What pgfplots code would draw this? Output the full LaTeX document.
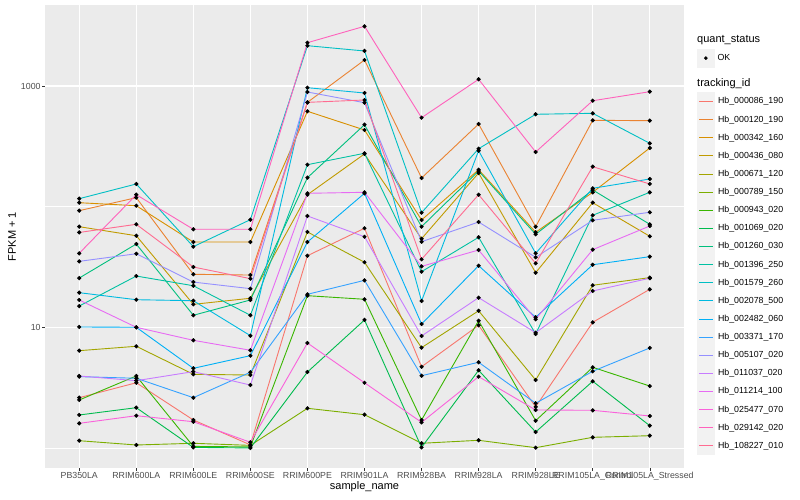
\documentclass[border=0pt]{standalone}
\usepackage{fontspec}
\setmainfont{Liberation Sans}
\usepackage{pgfplots}
\usepackage{pgfplotstable}
\pgfplotsset{compat=1.18}

\definecolor{c1}{HTML}{F8766D}
\definecolor{c2}{HTML}{EA8331}
\definecolor{c3}{HTML}{D89000}
\definecolor{c4}{HTML}{C09B00}
\definecolor{c5}{HTML}{A3A500}
\definecolor{c6}{HTML}{7CAE00}
\definecolor{c7}{HTML}{39B600}
\definecolor{c8}{HTML}{00BB4E}
\definecolor{c9}{HTML}{00BF7D}
\definecolor{c10}{HTML}{00C1A3}
\definecolor{c11}{HTML}{00BFC4}
\definecolor{c12}{HTML}{00BAE0}
\definecolor{c13}{HTML}{00B0F6}
\definecolor{c14}{HTML}{35A2FF}
\definecolor{c15}{HTML}{9590FF}
\definecolor{c16}{HTML}{C77CFF}
\definecolor{c17}{HTML}{E76BF3}
\definecolor{c18}{HTML}{FA62DB}
\definecolor{c19}{HTML}{FF62BC}
\definecolor{c20}{HTML}{FF6C91}
\definecolor{panelbg}{HTML}{EBEBEB}
\definecolor{keybg}{HTML}{F2F2F2}
\definecolor{tickgray}{HTML}{333333}
\definecolor{labgray}{HTML}{4D4D4D}

\pgfplotstableread{
x s1 s2 s3 s4 s5 s6 s7 s8 s9 s10 s11 s12 s13 s14 s15 s16 s17 s18 s19 s20
0 2.61 92.6 107.8 68.2 6.40 1.148 2.497 1.876 25.6 15.0 116.4 19.36 10.06 3.90 35.2 3.95 16.84 1.60 41.05 61.1
1 3.47 118.7 101.8 57.4 6.96 1.058 3.95 2.156 49.0 26.6 154.1 16.93 10.0 3.78 40.7 3.61 10.0 1.85 125.6 71.4
2 1.705 27.5 50.9 15.5 4.08 1.093 1.03 1.01 12.58 22.1 46.6 16.61 4.57 2.61 23.7 4.29 7.80 1.65 64.9 31.6
3 1.06 27.1 50.9 17.4 4.02 1.05 1.02 1.0 16.84 12.58 78.0 8.52 5.82 4.24 20.9 3.32 6.45 1.114 64.9 25.3
4 39.2 732 617 125.6 61.7 2.131 18.28 4.26 173.8 222.7 2158 968 50.9 18.77 891.6 83.7 129.0 7.41 2285 732
5 66.2 1642 431.8 273.2 34.6 1.886 17.07 11.5 477.9 276.9 1951 875 129.0 24.5 727 56.3 131.5 3.47 3125 765.6
6 4.71 172.8 77.5 54.2 6.78 1.093 1.705 1.01 68.2 28.9 89.1 16.52 10.65 3.97 51.2 8.47 32.0 1.63 546 36.6
7 10.39 484 202.4 190.0 13.7 1.157 11.34 4.40 197.5 55.7 302.2 290.9 32.4 5.13 74.6 17.6 43.7 3.90 1136 125.6
8 2.19 68.2 61.3 28.35 3.66 1.005 1.682 1.356 59.0 8.80 582.9 41.05 12.1 2.345 38.0 9.02 11.65 2.063 283.8 33.9
9 11.0 519.6 131.5 107.8 22.3 1.225 4.66 3.57 137.4 84.8 593.8 141.9 33.0 4.32 77.1 20.0 44.0 2.051 755 214.3
10 20.65 515.7 306.3 56.8 25.8 1.263 3.26 1.529 71.4 131.5 335.0 169.5 38.5 6.74 89.8 25.5 69.1 1.84 897 154.1
}\data

\pgfplotsset{
  keylegend/.style={
    legend cell align=left,
    legend style={
      draw=none, fill=none, inner sep=0pt, outer sep=0pt,
      row sep=0pt,
      nodes={inner sep=0pt, minimum height=17.23pt, anchor=west,
             font=\fontsize{8.8}{10}\selectfont},
      /tikz/every odd column/.append style={column sep=3pt},
    },
  },
}

\begin{document}
\begin{tikzpicture}
\useasboundingbox (0,0) rectangle (800pt,500pt);
\begin{axis}[
  at={(45pt,32pt)}, anchor=south west,
  scale only axis, width=639pt, height=463pt,
  ymode=log, ymin=0.682, ymax=4692,
  xmin=-0.6, xmax=10.6,
  enlargelimits=false,
  axis background/.style={fill=panelbg},
  axis line style={draw=none},
  xtick={0,1,2,3,4,5,6,7,8,9,10},
  xticklabels={PB350LA,RRIM600LA,RRIM600LE,RRIM600SE,RRIM600PE,RRIM901LA,RRIM928BA,RRIM928LA,RRIM928LE,RRIM105LA\_Control,RRIM105LA\_Stressed},
  ytick={10,1000}, yticklabels={10,1000},
  minor ytick={1,100},
  minor xtick={},
  grid=both,
  major grid style={white, line width=1.07pt},
  minor grid style={white, line width=0.53pt},
  tick style={color=tickgray, line width=0.53pt},
  major tick length=2.74pt,
  minor tick length=0pt,
  tick align=outside,
  tick pos=left,
  /pgf/number format/assume math mode=true,
  ticklabel style={font=\fontsize{8.8}{10}\selectfont, text=labgray},
  xticklabel style={inner sep=1.5pt},
  yticklabel style={inner sep=1.5pt},
  xlabel={sample\_name}, ylabel={FPKM + 1},
  every axis x label/.style={at={(axis description cs:0.5,0)}, anchor=center, yshift=-19pt, font=\fontsize{11}{13}\selectfont},
  every axis y label/.style={at={(axis description cs:0,0.5)}, xshift=-33pt, rotate=90, anchor=center, font=\fontsize{11}{13}\selectfont},
  keylegend,
  legend style={at={(1.0203,0.8112)}, anchor=north west},
  legend image code/.code={
    \fill[keybg] (0pt,-8.615pt) rectangle (17.23pt,8.615pt);
    \draw[#1, line width=0.9pt] (1.73pt,0pt) -- (15.5pt,0pt);
  },
  every axis plot/.append style={line width=0.9pt, mark=none},
]
\addplot[draw=c1, color=c1] table[x=x,y=s1]{\data}; \addlegendentry{Hb\_000086\_190}
\addplot[draw=c2, color=c2] table[x=x,y=s2]{\data}; \addlegendentry{Hb\_000120\_190}
\addplot[draw=c3, color=c3] table[x=x,y=s3]{\data}; \addlegendentry{Hb\_000342\_160}
\addplot[draw=c4, color=c4] table[x=x,y=s4]{\data}; \addlegendentry{Hb\_000436\_080}
\addplot[draw=c5, color=c5] table[x=x,y=s5]{\data}; \addlegendentry{Hb\_000671\_120}
\addplot[draw=c6, color=c6] table[x=x,y=s6]{\data}; \addlegendentry{Hb\_000789\_150}
\addplot[draw=c7, color=c7] table[x=x,y=s7]{\data}; \addlegendentry{Hb\_000943\_020}
\addplot[draw=c8, color=c8] table[x=x,y=s8]{\data}; \addlegendentry{Hb\_001069\_020}
\addplot[draw=c9, color=c9] table[x=x,y=s9]{\data}; \addlegendentry{Hb\_001260\_030}
\addplot[draw=c10, color=c10] table[x=x,y=s10]{\data}; \addlegendentry{Hb\_001396\_250}
\addplot[draw=c11, color=c11] table[x=x,y=s11]{\data}; \addlegendentry{Hb\_001579\_260}
\addplot[draw=c12, color=c12] table[x=x,y=s12]{\data}; \addlegendentry{Hb\_002078\_500}
\addplot[draw=c13, color=c13] table[x=x,y=s13]{\data}; \addlegendentry{Hb\_002482\_060}
\addplot[draw=c14, color=c14] table[x=x,y=s14]{\data}; \addlegendentry{Hb\_003371\_170}
\addplot[draw=c15, color=c15] table[x=x,y=s15]{\data}; \addlegendentry{Hb\_005107\_020}
\addplot[draw=c16, color=c16] table[x=x,y=s16]{\data}; \addlegendentry{Hb\_011037\_020}
\addplot[draw=c17, color=c17] table[x=x,y=s17]{\data}; \addlegendentry{Hb\_011214\_100}
\addplot[draw=c18, color=c18] table[x=x,y=s18]{\data}; \addlegendentry{Hb\_025477\_070}
\addplot[draw=c19, color=c19] table[x=x,y=s19]{\data}; \addlegendentry{Hb\_029142\_020}
\addplot[draw=c20, color=c20] table[x=x,y=s20]{\data}; \addlegendentry{Hb\_108227\_010}
\pgfplotsinvokeforeach{1,...,20}{
  \addplot[forget plot, only marks, mark=*, mark size=1.6pt, black] table[x=x,y=s#1]{\data};
}
\end{axis}
\begin{axis}[
  at={(45pt,32pt)}, anchor=south west,
  scale only axis, width=639pt, height=463pt,
  hide axis, xmin=0, xmax=1, ymin=0, ymax=1,
  keylegend,
  legend style={at={(1.0203,0.9043)}, anchor=north west},
  legend image code/.code={
    \fill[keybg] (0pt,-8.615pt) rectangle (17.23pt,8.615pt);
    \draw[#1] plot coordinates {(8.615pt,0pt)};
  },
]
\addlegendimage{only marks, mark=*, mark size=1.6pt, black}
\addlegendentry{OK}
\end{axis}
\node[anchor=west, inner sep=0pt, font=\fontsize{11}{13}\selectfont] at (697pt,459.5pt) {quant\_status};
\node[anchor=west, inner sep=0pt, font=\fontsize{11}{13}\selectfont] at (697pt,416pt) {tracking\_id};
\end{tikzpicture}
\end{document}
